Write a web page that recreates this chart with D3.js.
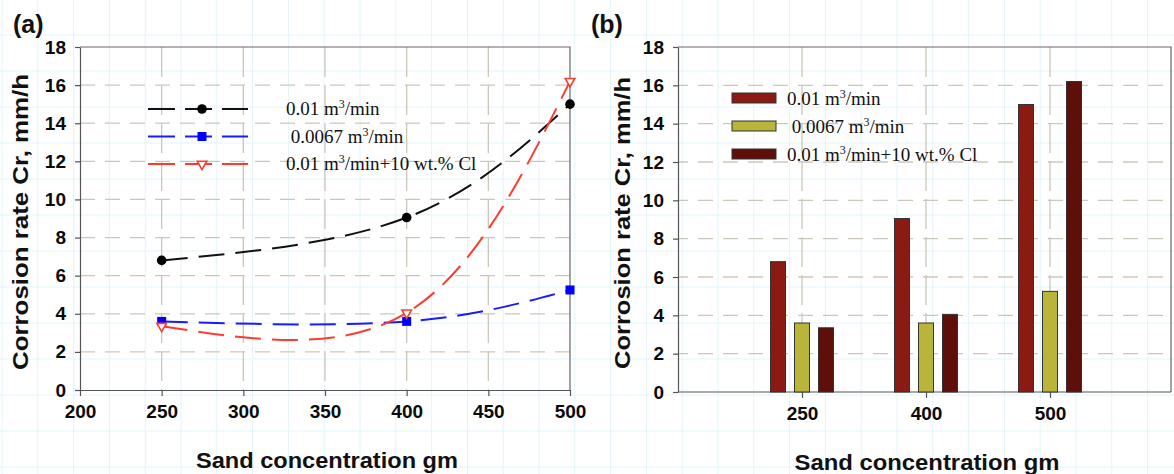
<!DOCTYPE html>
<html>
<head>
<meta charset="utf-8">
<script src="https://d3js.org/d3.v7.min.js"></script>
<style>
  body { margin: 0; background: #fff; }
  svg { display: block; }
  .title { font-family: "Liberation Sans", Arial, sans-serif; font-weight: bold; fill: #111; }
  .legtext { font-family: "Liberation Serif", "Times New Roman", serif; font-size: 19px; fill: #111; }
</style>
</head>
<body>
<script>
// values
var sand = [250, 400, 500];                 // sand concentration, gm
var flowHigh = [6.8, 9.05, 15.0];           // 0.01 m3/min
var flowLow = [3.6, 3.6, 5.25];             // 0.0067 m3/min
var flowHighCl = [3.35, 4.05, 16.2];        // 0.01 m3/min + 10 wt.% Cl
var seriesLabels = [["0.01 m", "/min"], [" 0.0067 m", "/min"], ["0.01 m", "/min+10 wt.% Cl"]];
var yTickValues = [0, 2, 4, 6, 8, 10, 12, 14, 16, 18];
var xTickValuesA = [200, 250, 300, 350, 400, 450, 500];
var yTitle = "Corrosion rate Cr, mm/h";
var xTitle = "Sand concentration gm";

var W = 1174, H = 474;
var lineColors = ["#111111", "#1a1aff", "#ff3b30"];
var barColors = ["#8a1a12", "#b9b43a", "#5e0f0a"];
var gridColor = "#cbc7ba";

var svg = d3.select("body").append("svg").attr("width", W).attr("height", H);

// faint background grid of the scanned page
var bg = svg.append("g").attr("stroke", "#e3f5f8").attr("stroke-width", 1);
for (var gx = 2; gx < W; gx += 35.8) bg.append("line").attr("x1", gx).attr("x2", gx).attr("y1", 0).attr("y2", H);
for (var gy = 35; gy < H; gy += 36) bg.append("line").attr("y1", gy).attr("y2", gy).attr("x1", 0).attr("x2", W);

// axis look: grey lines, big bold tick labels
function styleAxis(g) {
    g.selectAll("path, line").style("stroke", "#555").style("stroke-width", 1.2);
    g.selectAll("text")
        .style("font-family", "'Liberation Sans', Arial, sans-serif")
        .style("font-weight", "bold")
        .style("font-size", "19px")
        .style("fill", "#0a0a0a");
}

function addSeriesLabel(textSel, parts) {
    textSel.append("tspan").text(parts[0]);
    textSel.append("tspan").attr("dy", -7).attr("font-size", "12px").text("3");
    textSel.append("tspan").attr("dy", 7).text(parts[1]);
}

// ---------- panel (a): line chart ----------
var xA = d3.scaleLinear().domain([200, 500]).range([80, 570]);
var yA = d3.scaleLinear().domain([0, 18]).range([390, 47]);
var pa = svg.append("g");

// grid
pa.append("g").selectAll("line").data(yTickValues.slice(1, -1)).enter().append("line")
    .attr("x1", xA(200)).attr("x2", xA(500))
    .attr("y1", function(d) { return yA(d); }).attr("y2", function(d) { return yA(d); })
    .attr("stroke", gridColor).attr("stroke-width", 1.3).attr("stroke-dasharray", "15,10");
pa.append("g").selectAll("line").data(xTickValuesA.slice(1, -1)).enter().append("line")
    .attr("x1", function(d) { return xA(d); }).attr("x2", function(d) { return xA(d); })
    .attr("y1", yA(18)).attr("y2", yA(0))
    .attr("stroke", gridColor).attr("stroke-width", 1.3).attr("stroke-dasharray", "30,8");

// frame top/right
pa.append("path").attr("d", "M" + xA(200) + "," + yA(18) + "H" + xA(500) + "V" + yA(0))
    .attr("fill", "none").attr("stroke", "#666").attr("stroke-width", 1.2);

pa.append("g").attr("transform", "translate(0," + yA(0) + ")")
    .call(d3.axisBottom(xA).tickValues(xTickValuesA).tickSize(6).tickSizeOuter(0).tickPadding(9))
    .call(styleAxis);
pa.append("g").attr("transform", "translate(" + xA(200) + ",0)")
    .call(d3.axisLeft(yA).tickValues(yTickValues).tickSize(5).tickSizeOuter(0).tickPadding(9))
    .call(styleAxis);

var seriesA = [flowHigh, flowLow, flowHighCl].map(function(vals, i) {
    return { i: i, pts: sand.map(function(s, j) { return [s, vals[j]]; }) };
});
var line = d3.line().curve(d3.curveNatural)
    .x(function(d) { return xA(d[0]); }).y(function(d) { return yA(d[1]); });

pa.selectAll(".series").data(seriesA).enter().append("path")
    .attr("d", function(d) { return line(d.pts); })
    .attr("fill", "none")
    .attr("stroke", function(d) { return lineColors[d.i]; })
    .attr("stroke-width", 2)
    .attr("stroke-dasharray", "26,11");

var tri = d3.symbol().type(d3.symbolTriangle).size(40);
function drawMarker(g, i, px, py) {
    if (i === 0) {
        g.append("circle").attr("cx", px).attr("cy", py).attr("r", 4.8).attr("fill", "#000");
    } else if (i === 1) {
        g.append("rect").attr("x", px - 4.5).attr("y", py - 4.5).attr("width", 9).attr("height", 9).attr("fill", "#0000ff");
    } else {
        g.append("path").attr("d", tri).attr("transform", "translate(" + px + "," + py + ") rotate(180)")
            .attr("fill", "#fff").attr("stroke", lineColors[2]).attr("stroke-width", 1.6);
    }
}
seriesA.forEach(function(s) {
    s.pts.forEach(function(p) { drawMarker(pa, s.i, xA(p[0]), yA(p[1])); });
});

// legend (a)
var legA = pa.append("g");
seriesLabels.forEach(function(lab, i) {
    var ly = 109 + i * 27.5;
    legA.append("line").attr("x1", 148).attr("x2", 248).attr("y1", ly).attr("y2", ly)
        .attr("stroke", lineColors[i]).attr("stroke-width", 2).attr("stroke-dasharray", "27,10");
    drawMarker(legA, i, 202, ly);
    var t = legA.append("text").attr("class", "legtext").attr("x", 286).attr("y", ly + 6)
        .attr("xml:space", "preserve");
    addSeriesLabel(t, lab);
});

pa.append("text").attr("class", "title").attr("x", 13).attr("y", 33).attr("font-size", "25px").text("(a)");
pa.append("text").attr("class", "title").attr("font-size", "22px")
    .attr("text-anchor", "middle").attr("textLength", 296).attr("lengthAdjust", "spacingAndGlyphs")
    .attr("transform", "translate(28,222) rotate(-90)").text(yTitle);
pa.append("text").attr("class", "title").attr("font-size", "22px")
    .attr("text-anchor", "middle").attr("textLength", 262).attr("lengthAdjust", "spacingAndGlyphs")
    .attr("x", 327).attr("y", 468).text(xTitle);

// ---------- panel (b): grouped bars ----------
var xB = d3.scalePoint().domain(sand).range([678, 1174]).padding(1);
var inner = d3.scaleBand().domain([0, 1, 2]).range([-31.5, 31.5]).paddingInner(0.375);
var yB = d3.scaleLinear().domain([0, 18]).range([392, 47]);
var pb = svg.append("g");
var rightB = 1171;

pb.append("g").selectAll("line").data(yTickValues.slice(1, -1)).enter().append("line")
    .attr("x1", 678).attr("x2", rightB)
    .attr("y1", function(d) { return yB(d); }).attr("y2", function(d) { return yB(d); })
    .attr("stroke", gridColor).attr("stroke-width", 1.3).attr("stroke-dasharray", "15,10")
    .attr("stroke-dashoffset", 5);
pb.append("g").selectAll("line").data(sand).enter().append("line")
    .attr("x1", function(d) { return xB(d); }).attr("x2", function(d) { return xB(d); })
    .attr("y1", yB(18)).attr("y2", yB(0))
    .attr("stroke", gridColor).attr("stroke-width", 1.3).attr("stroke-dasharray", "30,8");

pb.append("path").attr("d", "M678," + yB(18) + "H" + rightB + "V" + yB(0))
    .attr("fill", "none").attr("stroke", "#666").attr("stroke-width", 1.2);

var axB = pb.append("g").attr("transform", "translate(0," + yB(0) + ")")
    .call(d3.axisBottom(xB).tickSize(6).tickSizeOuter(0).tickPadding(9))
    .call(styleAxis);
axB.select(".domain").attr("d", "M678,0H" + rightB);
pb.append("g").attr("transform", "translate(678,0)")
    .call(d3.axisLeft(yB).tickValues(yTickValues).tickSize(5).tickSizeOuter(0).tickPadding(9))
    .call(styleAxis);

var barData = [];
[flowHigh, flowLow, flowHighCl].forEach(function(vals, i) {
    sand.forEach(function(s, j) { barData.push({ s: s, i: i, v: vals[j] }); });
});
pb.selectAll(".bar").data(barData).enter().append("rect")
    .attr("x", function(d) { return xB(d.s) + inner(d.i); })
    .attr("y", function(d) { return yB(d.v); })
    .attr("width", inner.bandwidth())
    .attr("height", function(d) { return yB(0) - yB(d.v); })
    .attr("fill", function(d) { return barColors[d.i]; })
    .attr("stroke", "#333").attr("stroke-width", 1);

var legB = pb.append("g");
seriesLabels.forEach(function(lab, i) {
    var ly = 98 + i * 28;
    legB.append("rect").attr("x", 732).attr("y", ly - 5).attr("width", 44).attr("height", 10)
        .attr("fill", barColors[i]).attr("stroke", "#333").attr("stroke-width", 1);
    var t = legB.append("text").attr("class", "legtext").attr("x", 787).attr("y", ly + 7)
        .attr("xml:space", "preserve");
    addSeriesLabel(t, lab);
});

pb.append("text").attr("class", "title").attr("x", 591).attr("y", 33).attr("font-size", "25px").text("(b)");
pb.append("text").attr("class", "title").attr("font-size", "22px")
    .attr("text-anchor", "middle").attr("textLength", 292).attr("lengthAdjust", "spacingAndGlyphs")
    .attr("transform", "translate(630,223) rotate(-90)").text(yTitle);
pb.append("text").attr("class", "title").attr("font-size", "22px")
    .attr("text-anchor", "middle").attr("textLength", 265).attr("lengthAdjust", "spacingAndGlyphs")
    .attr("x", 927).attr("y", 470).text(xTitle);
</script>
</body>
</html>
